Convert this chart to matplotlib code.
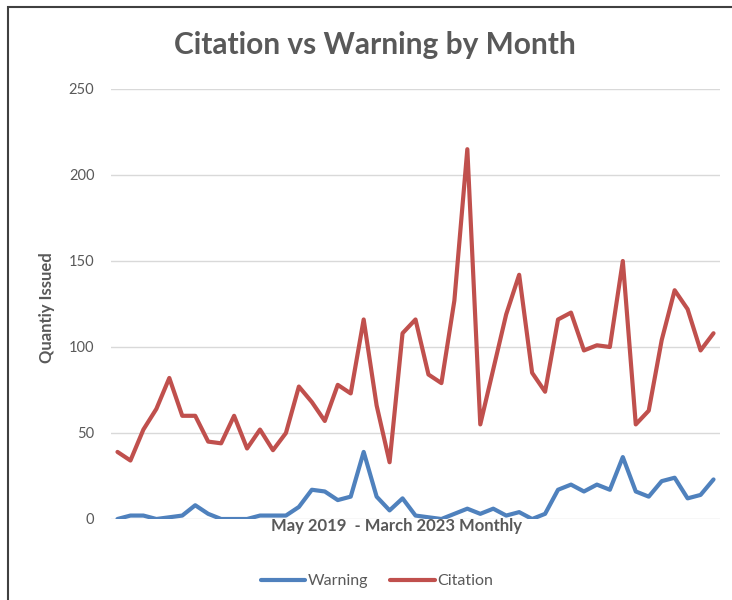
import matplotlib
matplotlib.use("Agg")
import matplotlib.pyplot as plt
from matplotlib.patches import Rectangle

plt.rcParams['font.family'] = ['Lato', 'DejaVu Sans']

# May 2019 - March 2023, one value per month
months = list(range(47))
warning = [0, 2, 2, 0, 1, 2, 8, 3, 0, 0,
           0, 2, 2, 2, 7, 17, 16, 11, 13, 39,
           13, 5, 12, 2, 1, 0, 3, 6, 3, 6,
           2, 4, 0, 3, 17, 20, 16, 20, 17, 36,
           16, 13, 22, 24, 12, 14, 23]
citation = [39, 34, 52, 64, 82, 60, 60, 45, 44, 60,
            41, 52, 40, 50, 77, 68, 57, 78, 73, 116,
            66, 33, 108, 116, 84, 79, 127, 215, 55, 87,
            119, 142, 85, 74, 116, 120, 98, 101, 100, 150,
            55, 63, 104, 133, 122, 98, 108]
yticks = [0, 50, 100, 150, 200, 250]

W, H = 732, 600
fig = plt.figure(figsize=(W / 100, H / 100), dpi=100)
fig.patches.append(Rectangle((8 / W, -0.1), 1.2, (H - 7) / H + 0.1,
                             transform=fig.transFigure, fill=False,
                             edgecolor='#404040', linewidth=1.5))

ax = fig.add_axes([111 / W, (H - 519) / H, (720 - 111) / W, (519 - 89) / H])
ax.plot(months, warning, color='#4F81BD', linewidth=3.0, label='Warning',
        solid_joinstyle='round', solid_capstyle='round')
ax.plot(months, citation, color='#C0504D', linewidth=3.0, label='Citation',
        solid_joinstyle='round', solid_capstyle='round')

ax.set_xlim(-0.5, 46.5)
ax.set_ylim(0, 250)
ax.set_yticks(yticks)
ax.set_xticks([])
ax.grid(axis='y', color='#D9D9D9', linewidth=1)
ax.set_axisbelow(True)
for s in ax.spines.values():
    s.set_visible(False)
ax.tick_params(axis='y', length=0, pad=12, labelsize=10.5, labelcolor='#595959')

fig.text(375 / W, 1 - 45 / H, 'Citation vs Warning by Month', ha='center',
         va='center', fontsize=21.5, fontweight='bold', color='#595959')
fig.text(396 / W, 1 - 526 / H, 'May 2019  - March 2023 Monthly', ha='center',
         va='center', fontsize=12, fontweight='bold', color='#595959')
fig.text(47 / W, 1 - 308 / H, 'Quantiy Issued', ha='center', va='center',
         rotation=90, fontsize=12, fontweight='bold', color='#595959')

fig.legend(loc='center', bbox_to_anchor=(377 / W, 1 - 581 / H), ncol=2,
           frameon=False, fontsize=11.5, labelcolor='#595959',
           handlelength=2.8, handletextpad=0.15, columnspacing=1.4)

fig.savefig('out.png', dpi=100)
